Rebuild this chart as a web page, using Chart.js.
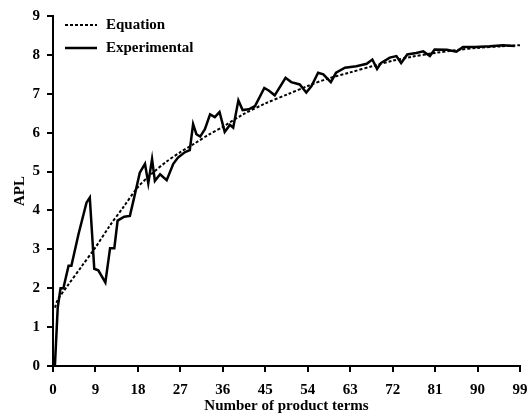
<!DOCTYPE html>
<html>
<head>
<meta charset="utf-8">
<script src="https://cdn.jsdelivr.net/npm/chart.js@4"></script>
<style>
    html, body { margin: 0; padding: 0; background: #ffffff; }
    #wrap { width: 527px; height: 419px; }
</style>
</head>
<body>
<div id="wrap"><canvas id="apl-chart" width="527" height="419"></canvas></div>
<script>
// Equation curve
const equationX = [0.4, 1, 3, 6, 9, 12, 15, 18, 21, 24, 27, 30, 33, 36, 40, 45, 50, 54, 58, 63, 68, 72, 76, 81, 86, 90, 95, 99];
const equationY = [1.5, 1.7, 2.05, 2.55, 3.05, 3.6, 4.1, 4.6, 4.95, 5.25, 5.5, 5.72, 5.95, 6.15, 6.45, 6.75, 7.0, 7.2, 7.38, 7.55, 7.72, 7.85, 7.95, 8.05, 8.13, 8.18, 8.22, 8.25];

// Experimental curve
const experimentalX = [0.4, 1.0, 1.6, 2.2, 3.3, 3.9, 5.4, 7.1, 7.8, 8.75, 9.6, 11.1, 12.1, 13.0, 13.7, 15.1, 16.3, 17.2, 18.4, 19.5,
    20.2, 21.0, 21.6, 22.7, 24.1, 25.5, 26.5, 28.0, 29.0, 29.7, 30.4, 31.2, 32.2, 33.3, 34.3, 35.3, 36.4, 37.5, 38.2, 39.3,
    40.2, 41.5, 42.8, 44.8, 45.8, 47.0, 49.3, 50.5, 52.3, 53.7, 54.8, 56.2, 57.3, 58.9, 60.0, 61.9, 64.3, 66.5, 67.7, 68.7,
    69.5, 71.4, 72.8, 73.8, 75.1, 77.0, 78.5, 79.9, 80.9, 83.5, 85.5, 86.9, 89.5, 92.6, 95.4, 97.9];
const experimentalY = [0, 1.5, 2.0, 2.0, 2.58, 2.58, 3.39, 4.2, 4.33, 2.5, 2.46, 2.15, 3.03, 3.03, 3.74, 3.84, 3.86, 4.33, 4.97, 5.2,
    4.7, 5.32, 4.76, 4.93, 4.78, 5.2, 5.36, 5.5, 5.55, 6.22, 5.96, 5.9, 6.09, 6.47, 6.4, 6.53, 6.02, 6.2, 6.13, 6.83,
    6.58, 6.6, 6.68, 7.15, 7.08, 6.96, 7.41, 7.3, 7.24, 7.03, 7.2, 7.54, 7.5, 7.3, 7.54, 7.67, 7.71, 7.77, 7.88, 7.64,
    7.79, 7.93, 7.97, 7.79, 8.01, 8.05, 8.09, 7.97, 8.14, 8.13, 8.08, 8.2, 8.2, 8.22, 8.25, 8.23];

const xTicks = [0, 9, 18, 27, 36, 45, 54, 63, 72, 81, 90, 99];

const FONT = "'Liberation Serif', 'DejaVu Serif', serif";

const toPoints = (xs, ys) => xs.map((x, i) => ({ x: x, y: ys[i] }));

// Legend drawn inside the plot, top-left
const insideLegend = {
    id: "insideLegend",
    afterDraw(chart) {
        const ctx = chart.ctx;
        const area = chart.chartArea;
        const x0 = area.left + 12;
        const rows = [
            { text: "Equation", dash: [3, 2], width: 2, y: area.top + 9 },
            { text: "Experimental", dash: [], width: 2.5, y: area.top + 32 }
        ];
        ctx.save();
        rows.forEach((row) => {
            ctx.beginPath();
            ctx.setLineDash(row.dash);
            ctx.lineWidth = row.width;
            ctx.strokeStyle = "#000000";
            ctx.moveTo(x0, row.y);
            ctx.lineTo(x0 + 32, row.y);
            ctx.stroke();
            ctx.setLineDash([]);
            ctx.fillStyle = "#000000";
            ctx.font = "bold 15px " + FONT;
            ctx.textBaseline = "middle";
            ctx.fillText(row.text, x0 + 41, row.y);
        });
        ctx.restore();
    }
};

const ctx = document.getElementById("apl-chart").getContext("2d");
new Chart(ctx, {
    type: "line",
    data: {
        datasets: [
            {
                label: "Equation",
                data: toPoints(equationX, equationY),
                borderColor: "#000000",
                borderWidth: 2,
                borderDash: [3, 2],
                pointRadius: 0,
                tension: 0.3,
                fill: false
            },
            {
                label: "Experimental",
                data: toPoints(experimentalX, experimentalY),
                borderColor: "#000000",
                borderWidth: 2.5,
                pointRadius: 0,
                tension: 0,
                fill: false
            }
        ]
    },
    options: {
        responsive: false,
        animation: false,
        layout: { padding: { top: 15, right: 0, left: 11, bottom: 0 } },
        plugins: {
            legend: { display: false },
            tooltip: { enabled: false }
        },
        scales: {
            x: {
                type: "linear",
                min: 0,
                max: 99,
                afterBuildTicks: (scale) => {
                    scale.ticks = xTicks.map((v) => ({ value: v }));
                },
                afterFit: (scale) => {
                    scale.height = 53;
                    scale.paddingRight = 7;
                },
                grid: { display: true, drawOnChartArea: false, tickLength: 6, color: "#000000", lineWidth: 2 },
                border: { display: true, color: "#000000", width: 2 },
                ticks: { color: "#000000", padding: 9, maxRotation: 0, font: { family: FONT, size: 15, weight: "bold" } },
                title: {
                    display: true,
                    text: "Number of product terms",
                    color: "#000000",
                    padding: { top: 0, bottom: 4 },
                    font: { family: FONT, size: 15, weight: "bold" }
                }
            },
            y: {
                min: 0,
                max: 9,
                afterFit: (scale) => { scale.width = 42; },
                grid: { display: true, drawOnChartArea: false, tickLength: 6, color: "#000000", lineWidth: 2 },
                border: { display: true, color: "#000000", width: 2 },
                ticks: { stepSize: 1, color: "#000000", padding: 7, font: { family: FONT, size: 15, weight: "bold" } },
                title: {
                    display: true,
                    text: "APL",
                    color: "#000000",
                    padding: { top: 0, bottom: 0 },
                    font: { family: FONT, size: 15, weight: "bold" }
                }
            }
        }
    },
    plugins: [insideLegend]
});
</script>
</body>
</html>
